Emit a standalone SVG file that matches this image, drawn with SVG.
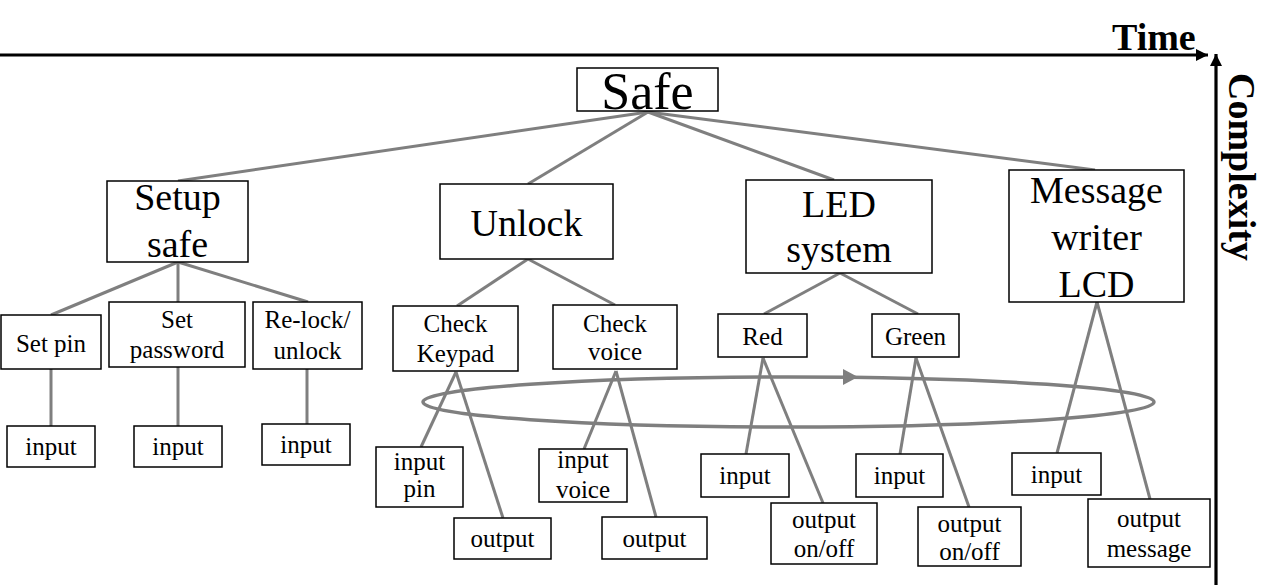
<svg xmlns="http://www.w3.org/2000/svg" width="1280" height="585" viewBox="0 0 1280 585">
<style>
  .box { fill: #ffffff; stroke: #000000; stroke-width: 1.5; }
  .t { font-family: "Liberation Serif", "Times New Roman", serif; fill: #000000; text-anchor: middle; }
  .big { font-size: 38px; }
  .small { font-size: 25px; }
  .root { font-size: 52px; }
  .axisLabel { font-family: "Liberation Serif", "Times New Roman", serif; font-weight: bold; font-size: 38px; fill: #000000; }
  .conn line { stroke: #7f7f7f; stroke-width: 3; }
  .axis { stroke: #000000; stroke-width: 3.2; fill: none; }
</style>
<defs>
  <marker id="axArrow" markerUnits="userSpaceOnUse" markerWidth="14" markerHeight="12" refX="12" refY="6" orient="auto">
    <path d="M0,0 L12,6 L0,12 Z" fill="#000000"/>
  </marker>
</defs>
<rect width="1280" height="585" fill="#ffffff"/>

<g id="axes">
  <line class="axis" x1="0" y1="55" x2="1208" y2="55" marker-end="url(#axArrow)"/>
  <line class="axis" x1="1216" y1="585" x2="1216" y2="54" marker-end="url(#axArrow)"/>
  <text class="axisLabel" x="1112" y="50">Time</text>
  <text class="axisLabel" transform="translate(1229,73) rotate(90)">Complexity</text>
</g>

<g id="cycle">
  <ellipse cx="788.5" cy="402" rx="365.5" ry="25" fill="none" stroke="#7f7f7f" stroke-width="3.5"/>
  <polygon points="843,369 858,377 843,385" fill="#7f7f7f"/>
</g>

<g class="conn" id="connectors">
  <line x1="648" y1="112" x2="178" y2="181"/>
  <line x1="648" y1="112" x2="528" y2="184"/>
  <line x1="648" y1="112" x2="834" y2="180"/>
  <line x1="648" y1="112" x2="1095" y2="170"/>
  <line x1="178" y1="262" x2="51" y2="315"/>
  <line x1="178" y1="262" x2="178" y2="302"/>
  <line x1="178" y1="262" x2="308" y2="302"/>
  <line x1="51" y1="369" x2="51" y2="426"/>
  <line x1="178" y1="367" x2="178" y2="426"/>
  <line x1="307" y1="369" x2="307" y2="424"/>
  <line x1="528" y1="259" x2="457" y2="306"/>
  <line x1="528" y1="259" x2="615" y2="305"/>
  <line x1="456" y1="372" x2="421" y2="447"/>
  <line x1="456" y1="372" x2="503" y2="518"/>
  <line x1="616" y1="371" x2="584" y2="449"/>
  <line x1="616" y1="371" x2="656" y2="517"/>
  <line x1="840" y1="273" x2="764" y2="314"/>
  <line x1="840" y1="273" x2="918" y2="314"/>
  <line x1="763" y1="358" x2="746" y2="454"/>
  <line x1="763" y1="358" x2="823" y2="503"/>
  <line x1="916" y1="358" x2="900" y2="454"/>
  <line x1="916" y1="358" x2="969" y2="507"/>
  <line x1="1097" y1="302" x2="1057" y2="453"/>
  <line x1="1097" y1="302" x2="1150" y2="499"/>
</g>

<g id="safe">
  <rect class="box" x="577" y="68" width="141" height="43"/>
  <text class="t root" x="647.5" y="109">Safe</text>
</g>

<g id="setup-safe">
  <rect class="box" x="107" y="181" width="141" height="81"/>
  <text class="t big" x="177.5" y="210">Setup</text>
  <text class="t big" x="177.5" y="257">safe</text>
</g>
<g id="unlock">
  <rect class="box" x="440" y="184" width="173" height="75"/>
  <text class="t big" x="526.5" y="236">Unlock</text>
</g>
<g id="led-system">
  <rect class="box" x="746" y="180" width="186" height="93"/>
  <text class="t big" x="839" y="217">LED</text>
  <text class="t big" x="839" y="262">system</text>
</g>
<g id="message-writer">
  <rect class="box" x="1009" y="170" width="175" height="132"/>
  <text class="t big" x="1096.5" y="203">Message</text>
  <text class="t big" x="1096.5" y="250">writer</text>
  <text class="t big" x="1096.5" y="297">LCD</text>
</g>

<g id="set-pin">
  <rect class="box" x="1" y="315" width="100" height="54"/>
  <text class="t small" x="51" y="352">Set pin</text>
</g>
<g id="set-password">
  <rect class="box" x="109" y="302" width="136" height="65"/>
  <text class="t small" x="177" y="328">Set</text>
  <text class="t small" x="177" y="358">password</text>
</g>
<g id="relock">
  <rect class="box" x="253" y="302" width="109" height="67"/>
  <text class="t small" x="307.5" y="328">Re-lock/</text>
  <text class="t small" x="307.5" y="359">unlock</text>
</g>
<g id="setpin-input">
  <rect class="box" x="7" y="426" width="88" height="41"/>
  <text class="t small" x="51" y="455">input</text>
</g>
<g id="password-input">
  <rect class="box" x="134" y="426" width="88" height="41"/>
  <text class="t small" x="178" y="455">input</text>
</g>
<g id="relock-input">
  <rect class="box" x="262" y="424" width="88" height="41"/>
  <text class="t small" x="306" y="453">input</text>
</g>

<g id="check-keypad">
  <rect class="box" x="393" y="306" width="125" height="65"/>
  <text class="t small" x="455.5" y="332">Check</text>
  <text class="t small" x="455.5" y="362">Keypad</text>
</g>
<g id="check-voice">
  <rect class="box" x="553" y="305" width="124" height="64"/>
  <text class="t small" x="615" y="332">Check</text>
  <text class="t small" x="615" y="360">voice</text>
</g>
<g id="input-pin">
  <rect class="box" x="376" y="447" width="87" height="60"/>
  <text class="t small" x="419.5" y="470">input</text>
  <text class="t small" x="419.5" y="497">pin</text>
</g>
<g id="keypad-output">
  <rect class="box" x="454" y="518" width="97" height="41"/>
  <text class="t small" x="502.5" y="547">output</text>
</g>
<g id="input-voice">
  <rect class="box" x="539" y="449" width="88" height="53"/>
  <text class="t small" x="583" y="468">input</text>
  <text class="t small" x="583" y="498">voice</text>
</g>
<g id="voice-output">
  <rect class="box" x="602" y="517" width="105" height="42"/>
  <text class="t small" x="654.5" y="547">output</text>
</g>

<g id="red">
  <rect class="box" x="718" y="314" width="89" height="43"/>
  <text class="t small" x="762.5" y="345">Red</text>
</g>
<g id="green">
  <rect class="box" x="872" y="314" width="87" height="43"/>
  <text class="t small" x="915.5" y="345">Green</text>
</g>
<g id="red-input">
  <rect class="box" x="701" y="454" width="88" height="43"/>
  <text class="t small" x="745" y="484">input</text>
</g>
<g id="red-output">
  <rect class="box" x="771" y="503" width="106" height="61"/>
  <text class="t small" x="824" y="528">output</text>
  <text class="t small" x="824" y="557">on/off</text>
</g>
<g id="green-input">
  <rect class="box" x="856" y="454" width="87" height="43"/>
  <text class="t small" x="899.5" y="484">input</text>
</g>
<g id="green-output">
  <rect class="box" x="918" y="507" width="103" height="59"/>
  <text class="t small" x="969.5" y="532">output</text>
  <text class="t small" x="969.5" y="560">on/off</text>
</g>
<g id="message-input">
  <rect class="box" x="1012" y="453" width="89" height="42"/>
  <text class="t small" x="1056.5" y="483">input</text>
</g>
<g id="message-output">
  <rect class="box" x="1088" y="499" width="122" height="68"/>
  <text class="t small" x="1149" y="527">output</text>
  <text class="t small" x="1149" y="557">message</text>
</g>
</svg>
